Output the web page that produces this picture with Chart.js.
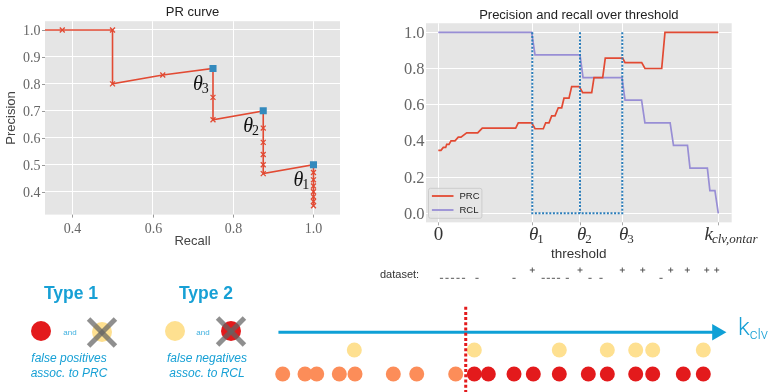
<!DOCTYPE html>
<html>
<head>
<meta charset="utf-8">
<script src="https://cdn.jsdelivr.net/npm/chart.js@4.4.0/dist/chart.umd.min.js"></script>
<style>
  body { margin: 0; width: 770px; height: 392px; position: relative; overflow: hidden; background: #fff; font-family: "Liberation Sans", Arial, sans-serif; }
  .abs { position: absolute; }
  .type { position: absolute; width: 120px; margin-left: -60px; text-align: center; font-weight: bold; font-size: 17.5px; line-height: 20px; color: #17a0d5; }
  .cap { position: absolute; width: 140px; margin-left: -70px; text-align: center; font-style: italic; font-size: 12px; line-height: 14.5px; color: #17a0d5; }
  .and { position: absolute; width: 30px; margin-left: -15px; text-align: center; font-size: 8px; line-height: 10px; color: #3fb0df; }
  .dot { position: absolute; width: 20px; height: 20px; margin: -10px 0 0 -10px; border-radius: 50%; }
  .xmark { position: absolute; width: 0; height: 0; }
  .xmark i { position: absolute; left: -19px; top: -2.5px; width: 38px; height: 5px; background: rgba(100, 100, 100, 0.72); }
  .xmark i:first-child { transform: rotate(45deg); }
  .xmark i:last-child { transform: rotate(-45deg); }
  #dataset { position: absolute; left: 380px; top: 267.7px; font-size: 11px; line-height: 13px; color: #333; }
  #klabel { position: absolute; left: 738px; top: 314.8px; font-family: Roboto, sans-serif; font-weight: 300; font-size: 24px; line-height: 24px; color: #17a0d5; }
  #klabel sub { font-size: 15px; vertical-align: -4px; }
</style>
</head>
<body>
<canvas id="prChart" class="abs" style="left:0;top:0" width="345" height="250"></canvas>
<canvas id="thrChart" class="abs" style="left:370px;top:0" width="400" height="262"></canvas>
<canvas id="kChart" class="abs" style="left:0;top:262px" width="770" height="130"></canvas>

<div class="type" style="left:71px;top:282.6px">Type 1</div>
<div class="type" style="left:206px;top:282.6px">Type 2</div>
<div class="dot" style="left:41.3px;top:330.5px;background:#e31a1c"></div>
<div class="and" style="left:70px;top:327.7px">and</div>
<div class="dot" style="left:101.7px;top:331.5px;background:#fee090"></div>
<div class="xmark" style="left:101.7px;top:332px"><i></i><i></i></div>
<div class="dot" style="left:174.7px;top:331px;background:#fee090"></div>
<div class="and" style="left:203px;top:327.7px">and</div>
<div class="dot" style="left:231.3px;top:331px;background:#e31a1c"></div>
<div class="xmark" style="left:231.3px;top:331.5px"><i></i><i></i></div>
<div class="cap" style="left:69px;top:351.3px">false positives<br>assoc. to PRC</div>
<div class="cap" style="left:207px;top:351.3px">false negatives<br>assoc. to RCL</div>
<div id="dataset">dataset:</div>
<div id="klabel">k<sub>clv</sub></div>

<script>
// ---------- PR curve (left) ----------
const prRecall = [0.125, 0.25, 0.375, 0.5, 0.5, 0.625, 0.75, 0.75, 0.75,
  0.875, 0.875, 0.875, 0.875, 0.875, 0.875, 1, 1, 1, 1, 1, 1, 1, 1];
const prPrecision = [1, 1, 1, 1, 0.8, 0.833, 0.857, 0.75, 0.667,
  0.7, 0.636, 0.583, 0.538, 0.5, 0.467, 0.5, 0.471, 0.444, 0.421, 0.4, 0.381, 0.364, 0.348];
const thetaRecall = [1, 0.875, 0.75];
const thetaPrecision = [0.5, 0.7, 0.857];
const thetaNames = ['1', '2', '3'];
const prXTicks = [0.4, 0.6, 0.8, 1.0];
const prYTicks = [0.4, 0.5, 0.6, 0.7, 0.8, 0.9, 1.0];

// ---------- precision / recall over threshold (right) ----------
const prcThr = [0, 0.96, 1.79, 2.64, 3.0, 3.82, 4.54, 5.96, 7.14, 8.1, 10.14, 14.07, 15.71, 27.64,
  28.57, 33.36, 34.54, 37.5, 38.36, 39.54, 40.5, 41.68, 42.86, 44.07, 44.89, 46.68, 47.64, 50.36,
  51.57, 54.79, 55.61, 58.71, 59.64, 65.86, 66.68, 72.64, 73.82, 79.79, 80.96, 100];
const prcVal = [0.348, 0.348, 0.364, 0.364, 0.381, 0.381, 0.4, 0.4, 0.421, 0.421, 0.444, 0.444, 0.471, 0.471,
  0.5, 0.5, 0.467, 0.467, 0.5, 0.5, 0.538, 0.538, 0.583, 0.583, 0.636, 0.636, 0.7, 0.7,
  0.667, 0.667, 0.75, 0.75, 0.857, 0.857, 0.833, 0.833, 0.8, 0.8, 1, 1];
const rclThr = [0, 33.36, 34.54, 50.6, 51.7, 65.6, 66.7, 72.6, 73.8, 82.8, 84.0, 89.0, 89.9, 96.1, 97.0, 98.8, 100];
const rclVal = [1, 1, 0.875, 0.875, 0.75, 0.75, 0.625, 0.625, 0.5, 0.5, 0.375, 0.375, 0.25, 0.25, 0.125, 0.125, 0];
const thetaThr = [33.57, 50.61, 65.71];
const thrTicks = [0, 33.57, 50.61, 65.71, 100];
const thrTickLabels = [['0', ''], ['θ', '1'], ['θ', '2'], ['θ', '3'], ['k', 'clv,ontar']];
const thrYTicks = [0, 0.2, 0.4, 0.6, 0.8, 1.0];

// ---------- dataset and k_clv axis (bottom), same threshold units ----------
const datasetNeg = [1.14, 3.11, 5.07, 7.04, 9.0, 13.82, 27.04, 37.46, 39.29, 41.11, 42.93, 46.07, 54.18, 58.11, 79.54];
const datasetPos = [33.57, 50.61, 65.71, 73.0, 83.0, 88.93, 95.86, 99.43];
const belowCut = [-55.57, -47.61, -43.43, -35.36, -29.75, -16.07, -7.71, 6.21];
const aboveCut = [12.86, 17.86, 27.04, 33.93, 43.21, 53.57, 60.36, 70.5, 76.57, 87.5, 94.64];
const truePos = [-30.0, 12.86, 43.21, 60.36, 70.5, 76.57, 94.64];
const cutK = 9.79;
const kAxis = [-57.1, 99.5];

const RED = '#E24A33';
const PURPLE = '#988ED5';
const SQ_BLUE = '#348ABD';
const DOT_BLUE = '#2A7DBA';
const K_BLUE = '#0fa0d6';

function pts(xs, ys) {
    return xs.map((v, i) => ({ x: v, y: ys[i] }));
}

const plotBg = {
    id: 'plotBg',
    beforeDraw(chart) {
        let a = chart.chartArea;
        let ctx = chart.ctx;
        ctx.save();
        ctx.fillStyle = '#E5E5E5';
        ctx.fillRect(a.left, a.top, a.right - a.left, a.bottom - a.top);
        ctx.restore();
    }
};

function gridAxis(min, max, ticks, size, which) {
    return {
        type: 'linear', min: min, max: max,
        afterBuildTicks: s => { s.ticks = ticks.map(v => ({ value: v })); },
        afterFit: s => { if (which === 'x') s.height = size; else s.width = size; },
        ticks: { display: false },
        grid: { color: '#ffffff', lineWidth: 1, drawTicks: false },
        border: { display: false }
    };
}

// draw "main" + subscript as math text
function mathText(ctx, main, sub, x, y, size, subSize, italicMain) {
    ctx.font = (italicMain ? 'italic ' : '') + size + 'px "Liberation Serif"';
    ctx.textAlign = 'left';
    ctx.textBaseline = 'alphabetic';
    ctx.fillText(main, x, y);
    let w = ctx.measureText(main).width;
    if (sub) {
        ctx.font = (/^\d+$/.test(sub) ? '' : 'italic ') + subSize + 'px "Liberation Serif"';
        ctx.fillText(sub, x + w - 1, y + 3);
        w += ctx.measureText(sub).width - 1;
    }
    return w;
}

const prText = {
    id: 'prText',
    afterDraw(chart) {
        let ctx = chart.ctx, a = chart.chartArea, x = chart.scales.x, y = chart.scales.y;
        ctx.save();
        ctx.strokeStyle = '#999';
        ctx.lineWidth = 1;
        ctx.fillStyle = '#666';
        ctx.font = '14px "Liberation Serif"';
        ctx.textBaseline = 'alphabetic';
        ctx.textAlign = 'center';
        prXTicks.forEach(v => {
            let px = Math.round(x.getPixelForValue(v)) + 0.5;
            ctx.beginPath(); ctx.moveTo(px, a.bottom); ctx.lineTo(px, a.bottom + 3); ctx.stroke();
            ctx.fillText(v.toFixed(1), px, 233);
        });
        ctx.textAlign = 'right';
        prYTicks.forEach(v => {
            let py = Math.round(y.getPixelForValue(v)) + 0.5;
            ctx.beginPath(); ctx.moveTo(a.left - 3, py); ctx.lineTo(a.left, py); ctx.stroke();
            ctx.fillText(v.toFixed(1), a.left - 4.5, py + 4.7);
        });
        // axis titles
        ctx.fillStyle = '#444';
        ctx.font = '13px "Liberation Sans"';
        ctx.textAlign = 'center';
        ctx.fillText('Recall', (a.left + a.right) / 2, 245);
        ctx.save();
        ctx.translate(14.5, (a.top + a.bottom) / 2);
        ctx.rotate(-Math.PI / 2);
        ctx.fillText('Precision', 0, 0);
        ctx.restore();
        ctx.fillStyle = '#222';
        ctx.fillText('PR curve', (a.left + a.right) / 2, 16.3);
        // theta annotations beside the threshold squares
        ctx.fillStyle = '#111';
        thetaRecall.forEach((r, i) => {
            let px = x.getPixelForValue(r), py = y.getPixelForValue(thetaPrecision[i]);
            mathText(ctx, 'θ', thetaNames[i], px - 20, py + 21, 20, 14, true);
        });
        ctx.restore();
    }
};

new Chart(document.getElementById('prChart'), {
    type: 'scatter',
    data: {
        datasets: [{
            data: pts(thetaRecall, thetaPrecision),
            showLine: false,
            pointStyle: 'rect',
            pointRadius: 5,
            pointBackgroundColor: SQ_BLUE,
            pointBorderColor: SQ_BLUE,
            pointBorderWidth: 0
        }, {
            data: pts(prRecall, prPrecision),
            showLine: true,
            borderColor: RED,
            borderWidth: 1.6,
            pointStyle: 'crossRot',
            pointRadius: 3.5,
            pointBorderColor: RED,
            pointBorderWidth: 1.3
        }]
    },
    options: {
        responsive: false,
        animation: false,
        events: [],
        layout: { autoPadding: false, padding: { top: 21.2, right: 5, left: 0, bottom: 0 } },
        plugins: { legend: { display: false }, tooltip: { enabled: false }, title: { display: false } },
        scales: {
            x: gridAxis(0.332, 1.066, prXTicks, 35.4, 'x'),
            y: gridAxis(0.315, 1.0326, prYTicks, 45, 'y')
        }
    },
    plugins: [plotBg, prText]
});

const thrText = {
    id: 'thrText',
    afterDraw(chart) {
        let ctx = chart.ctx, a = chart.chartArea, x = chart.scales.x, y = chart.scales.y;
        ctx.save();
        ctx.strokeStyle = '#aaa';
        ctx.lineWidth = 1;
        ctx.fillStyle = '#666';
        ctx.font = '16.5px "Liberation Serif"';
        ctx.textAlign = 'right';
        ctx.textBaseline = 'alphabetic';
        thrYTicks.forEach(v => {
            let py = y.getPixelForValue(v);
            ctx.fillText(v.toFixed(1), a.left - 1.5, py + 5.5);
        });
        thrTicks.forEach((v, i) => {
            let px = Math.round(x.getPixelForValue(v)) + 0.5;
            ctx.beginPath(); ctx.moveTo(px, a.bottom); ctx.lineTo(px, a.bottom + 3); ctx.stroke();
            let lab = thrTickLabels[i];
            ctx.fillStyle = '#333';
            if (lab[0] === '0') {
                ctx.font = '19px "Liberation Serif"';
                ctx.textAlign = 'center';
                ctx.fillText('0', px, 239.5);
            } else if (lab[0] === 'k') {
                mathText(ctx, lab[0], lab[1], px - 14, 239.5, 19, 13, true);
            } else {
                mathText(ctx, lab[0], lab[1], px - 3.5, 239.5, 19, 13, true);
            }
        });
        ctx.fillStyle = '#333';
        ctx.font = '13.5px "Liberation Sans"';
        ctx.textAlign = 'center';
        ctx.fillText('threshold', (a.left + a.right) / 2, 258);
        ctx.fillStyle = '#222';
        ctx.font = '13px "Liberation Sans"';
        ctx.fillText('Precision and recall over threshold', (a.left + a.right) / 2, 18.5);
        // legend, lower left inside the axes
        let lx = a.left + 2.5, ly = 188.3;
        ctx.fillStyle = 'rgba(229,229,229,0.8)';
        ctx.strokeStyle = '#cccccc';
        ctx.beginPath();
        ctx.roundRect(lx, ly, 53.4, 30, 2);
        ctx.fill();
        ctx.stroke();
        [['PRC', RED], ['RCL', PURPLE]].forEach((e, i) => {
            let ry = ly + 7.7 + i * 14;
            ctx.strokeStyle = e[1];
            ctx.lineWidth = 1.8;
            ctx.beginPath(); ctx.moveTo(lx + 3.4, ry); ctx.lineTo(lx + 25, ry); ctx.stroke();
            ctx.fillStyle = '#222';
            ctx.font = '9.5px "Liberation Sans"';
            ctx.textAlign = 'left';
            ctx.textBaseline = 'middle';
            ctx.fillText(e[0], lx + 31, ry);
        });
        ctx.restore();
    }
};

new Chart(document.getElementById('thrChart'), {
    type: 'scatter',
    data: {
        datasets: [{
            data: [{ x: thetaThr[0], y: 1 }, { x: thetaThr[0], y: 0 }, { x: thetaThr[2], y: 0 }, { x: thetaThr[2], y: 1 }],
            showLine: true, borderColor: DOT_BLUE, borderWidth: 2, borderDash: [2, 1.6], pointRadius: 0
        }, {
            data: [{ x: thetaThr[1], y: 1 }, { x: thetaThr[1], y: 0 }],
            showLine: true, borderColor: DOT_BLUE, borderWidth: 2, borderDash: [2, 1.6], pointRadius: 0
        }, {
            data: pts(prcThr, prcVal),
            showLine: true, borderColor: RED, borderWidth: 1.7, pointRadius: 0
        }, {
            data: pts(rclThr, rclVal),
            showLine: true, borderColor: PURPLE, borderWidth: 1.7, pointRadius: 0
        }]
    },
    options: {
        responsive: false,
        animation: false,
        events: [],
        layout: { autoPadding: false, padding: { top: 23.25, right: 38.3, left: 0, bottom: 0 } },
        plugins: { legend: { display: false }, tooltip: { enabled: false }, title: { display: false } },
        scales: {
            x: gridAxis(-4.39, 104.79, thrTicks, 39.65, 'x'),
            y: gridAxis(-0.05, 1.05, thrYTicks, 56, 'y')
        }
    },
    plugins: [plotBg, thrText]
});

// bottom strip: rows of the schematic
const ROW_PLUS = 12.2, ROW_MINUS = 11.37, ROW_AXIS = 5.97, ROW_POS = 4.2, ROW_ALL = 1.8, CUT_TOP = 8.53;

function row(xs, level) {
    return xs.map(v => ({ x: v, y: level }));
}

new Chart(document.getElementById('kChart'), {
    type: 'scatter',
    data: {
        datasets: [{
            data: [{ x: cutK, y: CUT_TOP }, { x: cutK, y: 0 }],
            showLine: true, borderColor: '#e31a1c', borderWidth: 3, borderDash: [3, 2.2], pointRadius: 0, order: 0
        }, {
            data: row(datasetNeg, ROW_MINUS),
            pointStyle: 'line', pointRadius: 1.6, pointBorderColor: '#555', pointBorderWidth: 1, order: 1
        }, {
            data: row(datasetPos, ROW_PLUS),
            pointStyle: 'cross', pointRadius: 2.5, pointBorderColor: '#555', pointBorderWidth: 1, order: 1
        }, {
            data: row(truePos, ROW_POS),
            pointRadius: 7.5, pointBackgroundColor: '#fee090', pointBorderWidth: 0, order: 2
        }, {
            data: row(aboveCut, ROW_ALL),
            pointRadius: 7.5, pointBackgroundColor: '#e31a1c', pointBorderWidth: 0, order: 2
        }, {
            data: row(belowCut, ROW_ALL),
            pointRadius: 7.5, pointBackgroundColor: '#fc8d59', pointBorderWidth: 0, order: 2
        }, {
            data: row(kAxis, ROW_AXIS),
            showLine: true, borderColor: K_BLUE, borderWidth: 3,
            pointStyle: 'triangle', pointRotation: 90, pointRadius: [0, 9.5],
            pointBackgroundColor: K_BLUE, pointBorderWidth: 0, order: 3
        }]
    },
    options: {
        responsive: false,
        animation: false,
        events: [],
        clip: false,
        layout: { autoPadding: false, padding: 0 },
        plugins: { legend: { display: false }, tooltip: { enabled: false } },
        scales: {
            x: { type: 'linear', min: -156.54, max: 118.46, display: false },
            y: { type: 'linear', min: 0, max: 13, display: false }
        }
    }
});
</script>
</body>
</html>
